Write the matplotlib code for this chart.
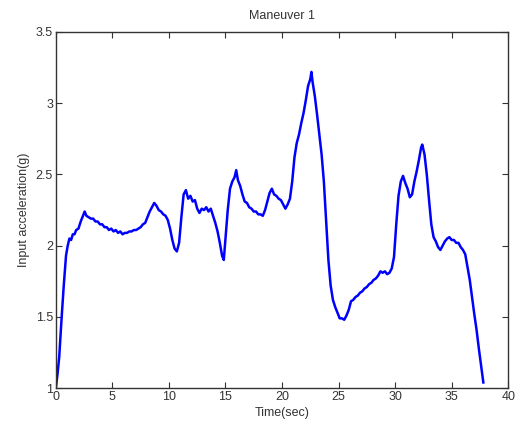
import numpy as np
import matplotlib
matplotlib.use("Agg")
import matplotlib.pyplot as plt

# values (time in sec, acceleration in g)
time_sec = [0.0, 0.15, 0.3, 0.5, 0.7, 0.9, 1.05, 1.2, 1.35, 1.5, 1.65, 1.8, 2.0, 2.2, 2.4, 2.55,
            2.7, 2.9, 3.1, 3.3, 3.5, 3.7, 3.9, 4.1, 4.3, 4.5, 4.7, 4.9, 5.1, 5.3, 5.5, 5.7,
            5.9, 6.1, 6.3, 6.5, 6.7, 6.9, 7.1, 7.3, 7.5, 7.7, 7.9, 8.1, 8.3, 8.5, 8.7, 8.9,
            9.1, 9.3, 9.5, 9.7, 9.9, 10.1, 10.3, 10.5, 10.7, 10.9, 11.1, 11.3, 11.5, 11.7,
            11.9, 12.1, 12.3, 12.5, 12.7, 12.9, 13.1, 13.3, 13.5, 13.7, 13.9, 14.1, 14.3,
            14.5, 14.7, 14.85, 15.0, 15.2, 15.4, 15.6, 15.8, 15.95, 16.1, 16.3, 16.5, 16.7,
            16.9, 17.1, 17.3, 17.5, 17.7, 17.9, 18.1, 18.3, 18.5, 18.7, 18.9, 19.1, 19.3,
            19.5, 19.7, 19.9, 20.1, 20.3, 20.5, 20.7, 20.9, 21.1, 21.3, 21.5, 21.7, 21.9,
            22.1, 22.3, 22.5, 22.6, 22.7, 22.9, 23.1, 23.3, 23.5, 23.7, 23.9, 24.1, 24.3,
            24.5, 24.7, 24.9, 25.1, 25.3, 25.5, 25.7, 25.9, 26.1, 26.3, 26.5, 26.7, 26.9,
            27.1, 27.3, 27.5, 27.7, 27.9, 28.1, 28.3, 28.5, 28.7, 28.9, 29.1, 29.3, 29.5,
            29.7, 29.9, 30.1, 30.3, 30.5, 30.7, 30.9, 31.1, 31.3, 31.5, 31.7, 31.9, 32.1,
            32.3, 32.4, 32.6, 32.8, 33.0, 33.2, 33.4, 33.6, 33.8, 34.0, 34.2, 34.4, 34.6,
            34.8, 35.0, 35.2, 35.4, 35.6, 35.8, 36.0, 36.2, 36.4, 36.6, 36.8, 37.0, 37.2,
            37.4, 37.6, 37.8]
accel_g = [1.00, 1.10, 1.22, 1.48, 1.72, 1.93, 2.00, 2.05, 2.04, 2.08, 2.08, 2.11, 2.12, 2.17, 2.21, 2.24,
           2.21, 2.20, 2.19, 2.19, 2.17, 2.17, 2.15, 2.15, 2.13, 2.13, 2.11, 2.12, 2.10, 2.11, 2.09, 2.10,
           2.08, 2.09, 2.09, 2.10, 2.10, 2.11, 2.11, 2.12, 2.13, 2.15, 2.16, 2.20, 2.24, 2.27, 2.30, 2.28,
           2.25, 2.24, 2.22, 2.21, 2.18, 2.12, 2.04, 1.98, 1.96, 2.02, 2.20, 2.36, 2.39, 2.33,
           2.35, 2.31, 2.32, 2.26, 2.23, 2.26, 2.25, 2.27, 2.24, 2.26, 2.21, 2.16, 2.10,
           2.02, 1.93, 1.90, 2.05, 2.25, 2.40, 2.45, 2.48, 2.53, 2.46, 2.42, 2.36, 2.31,
           2.30, 2.27, 2.26, 2.24, 2.24, 2.22, 2.22, 2.21, 2.25, 2.31, 2.37, 2.40, 2.36,
           2.35, 2.33, 2.32, 2.29, 2.26, 2.29, 2.33, 2.45, 2.62, 2.72, 2.78, 2.86, 2.93,
           3.02, 3.12, 3.17, 3.22, 3.15, 3.05, 2.92, 2.78, 2.64, 2.45, 2.18, 1.90, 1.72,
           1.62, 1.57, 1.53, 1.49, 1.49, 1.48, 1.51, 1.55, 1.61, 1.62, 1.64, 1.65, 1.67,
           1.68, 1.70, 1.71, 1.73, 1.74, 1.76, 1.77, 1.79, 1.82, 1.81, 1.82, 1.80, 1.81,
           1.84, 1.92, 2.15, 2.35, 2.45, 2.49, 2.44, 2.40, 2.34, 2.36, 2.45, 2.52, 2.60,
           2.69, 2.71, 2.64, 2.50, 2.32, 2.15, 2.06, 2.03, 1.99, 1.97, 2.00, 2.03, 2.05,
           2.06, 2.04, 2.04, 2.02, 2.02, 1.99, 1.97, 1.94, 1.85, 1.76, 1.64, 1.52, 1.41,
           1.28, 1.16, 1.04]

x_ticks = [0, 5, 10, 15, 20, 25, 30, 35, 40]
y_ticks = [1, 1.5, 2, 2.5, 3, 3.5]

plt.rcParams['font.family'] = ['Liberation Sans', 'DejaVu Sans']

fig = plt.figure(figsize=(5.17, 4.21), dpi=100)
ax = fig.add_axes([0.108, 0.078, 0.875, 0.846])

ax.plot(time_sec, accel_g, color="#0000ff", linewidth=1.8, solid_joinstyle="round")

ax.set_xlim(0, 40)
ax.set_ylim(1, 3.5)
ax.set_xticks(x_ticks)
ax.set_yticks(y_ticks)
ax.set_xticklabels([str(t) for t in x_ticks])
ax.set_yticklabels(["1", "1.5", "2", "2.5", "3", "3.5"])
ax.tick_params(direction="in", top=True, right=True, length=4, width=0.8,
               labelsize=9, colors="#333333", pad=2)
for s in ax.spines.values():
    s.set_color("#333333")
    s.set_linewidth(1.0)

ax.set_title("Maneuver 1", fontsize=9, color="#333333", pad=9)
ax.set_xlabel("Time(sec)", fontsize=9, color="#333333", labelpad=3)
ax.set_ylabel("Input acceleration(g)", fontsize=9, color="#333333", labelpad=4)

fig.savefig("out.png", dpi=100)
